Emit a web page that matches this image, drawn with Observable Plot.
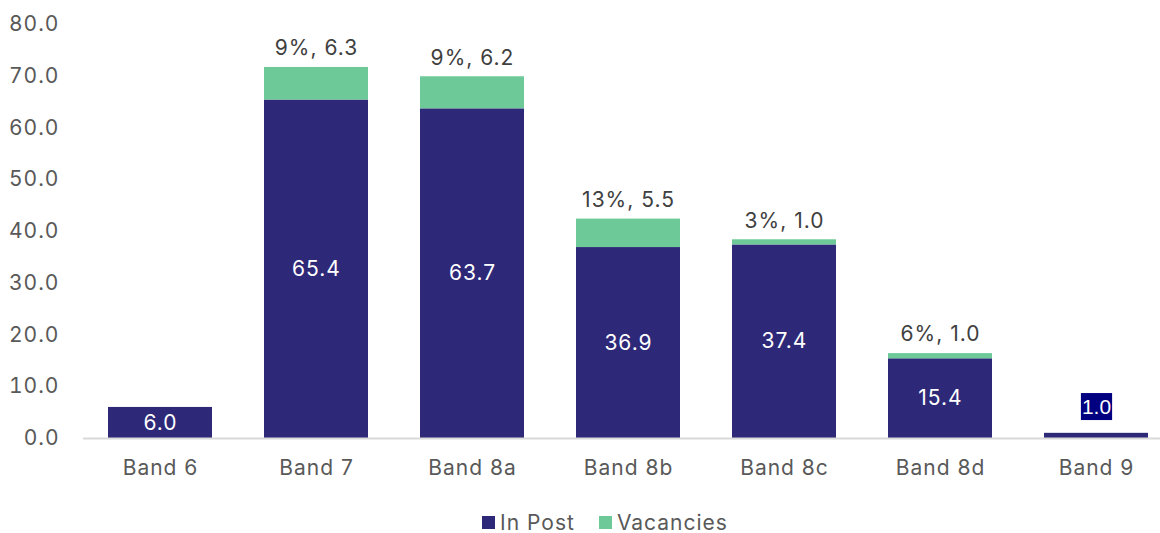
<!DOCTYPE html>
<html>
<head>
<meta charset="utf-8">
<script src="https://cdn.jsdelivr.net/npm/d3@7"></script>
<script src="https://cdn.jsdelivr.net/npm/@observablehq/plot@0.6"></script>
<style>
  html, body { margin: 0; padding: 0; background: #fff; }
  body { width: 1160px; height: 533px; overflow: hidden; font-family: Inter, "Noto Sans", sans-serif; }
  #legend { display: flex; justify-content: center; align-items: center; gap: 24px; height: 28px; margin-top: 3px; margin-left: 50px; font-size: 21px; letter-spacing: 1px; color: #595959; }
  #legend span.sw { display: inline-block; width: 13px; height: 13px; margin-right: 5px; vertical-align: middle; }
  #legend .item { display: flex; align-items: center; }
  svg text { letter-spacing: 1px; }
</style>
</head>
<body>
<div id="chart"></div>
<div id="legend"></div>
<script>
const bands = ["Band 6", "Band 7", "Band 8a", "Band 8b", "Band 8c", "Band 8d", "Band 9"];
const inPost = [6.0, 65.4, 63.7, 36.9, 37.4, 15.4, 1.0];
const vacancies = [0, 6.3, 6.2, 5.5, 1.0, 1.0, 0];
const yTicks = [0, 10, 20, 30, 40, 50, 60, 70, 80];
const seriesNames = ["In Post", "Vacancies"];
const colors = ["#2e2878", "#6dca98"];

const rows = [];
bands.forEach((b, i) => {
  rows.push({band: b, series: "In Post", value: inPost[i]});
  rows.push({band: b, series: "Vacancies", value: vacancies[i]});
});
const inPostRows = bands.map((b, i) => ({band: b, value: inPost[i], mid: inPost[i] / 2}));
const inLabels = inPostRows.filter((d, i) => i < bands.length - 1);
const smallLabel = inPostRows.filter((d, i) => i === bands.length - 1);
const vacRows = bands.map((b, i) => ({band: b, total: inPost[i] + vacancies[i], vac: vacancies[i],
  label: Math.round(100 * vacancies[i] / (inPost[i] + vacancies[i])) + "%, " + vacancies[i].toFixed(1)}))
  .filter(d => d.vac > 0);

const chart = Plot.plot({
  width: 1160,
  height: 505,
  marginLeft: 83,
  marginRight: 0,
  marginTop: 24,
  marginBottom: 67,
  style: {fontFamily: "Inter, 'Noto Sans', sans-serif", fontSize: "21px", color: "#595959", background: "#fff"},
  x: {domain: bands, range: [83, 1173], paddingInner: 0.334, paddingOuter: 0.16, label: null, tickSize: 0, tickPadding: 22},
  y: {domain: [0, 80], ticks: yTicks, tickFormat: d => d.toFixed(1), label: null, tickSize: 0, tickPadding: 24},
  color: {domain: seriesNames, range: colors},
  marks: [
    Plot.barY(rows, Plot.stackY({x: "band", y: "value", fill: "series", order: seriesNames})),
    Plot.ruleY([0], {stroke: "#d9d9d9", strokeWidth: 2}),
    Plot.text(inLabels, {x: "band", y: "mid", text: d => d.value.toFixed(1), fill: "#fff", fontSize: 21}),
    Plot.text(smallLabel, {x: "band", y: "value", text: d => d.value.toFixed(1), fill: "#fff", fontSize: 21, dy: -26, fontFamily: "'Liberation Sans', Arial, sans-serif", className: "boxed"}),
    Plot.text(vacRows, {x: "band", y: "total", text: "label", fill: "#404040", fontSize: 21, dy: -19})
  ]
});
document.getElementById("chart").appendChild(chart);

// background box behind the small label
chart.querySelectorAll("g.boxed text").forEach(t => {
  t.style.letterSpacing = "0px";
  const bb = t.getBBox();
  const r = document.createElementNS("http://www.w3.org/2000/svg", "rect");
  r.setAttribute("x", bb.x - 1);
  r.setAttribute("y", bb.y - 2);
  r.setAttribute("width", bb.width + 2);
  r.setAttribute("height", bb.height + 4);
  r.setAttribute("fill", "#000080");
  const tr = t.getAttribute("transform");
  if (tr) r.setAttribute("transform", tr);
  t.parentNode.insertBefore(r, t);
});

const legend = document.getElementById("legend");
seriesNames.forEach((s, i) => {
  const it = document.createElement("div");
  it.className = "item";
  it.innerHTML = `<span class="sw" style="background:${colors[i]}"></span>${s}`;
  legend.appendChild(it);
});
</script>
</body>
</html>
